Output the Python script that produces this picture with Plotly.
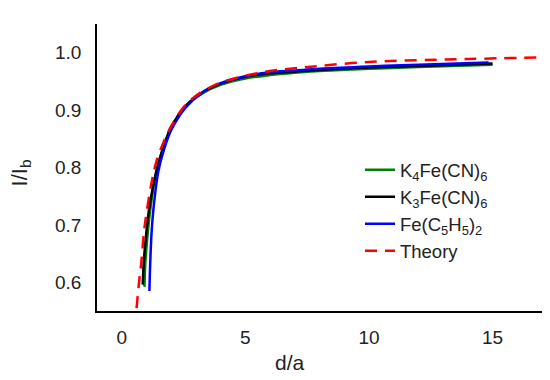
import plotly.graph_objects as go

# d/a values and I/Ib values
k4_x = [0.92, 0.95, 1.05, 1.15, 1.3, 1.5, 2.0, 2.6, 3.3, 4.0, 5.0, 6.0, 7.0, 8.0, 10.0, 12.0, 15.0]
k4_y = [0.592, 0.63, 0.685, 0.725, 0.77, 0.81, 0.87, 0.907, 0.930, 0.944, 0.955, 0.961, 0.965, 0.968, 0.972, 0.975, 0.979]

k3_x = [0.85, 0.9, 1.0, 1.1, 1.28, 1.5, 2.0, 2.6, 3.3, 4.0, 5.0, 6.0, 7.0, 8.0, 10.0, 12.0, 15.0]
k3_y = [0.596, 0.64, 0.688, 0.725, 0.77, 0.81, 0.87, 0.908, 0.932, 0.946, 0.958, 0.964, 0.967, 0.970, 0.974, 0.977, 0.981]

fc_x = [1.12, 1.15, 1.21, 1.3, 1.48, 1.7, 2.0, 2.6, 3.3, 4.0, 5.0, 6.0, 7.0, 8.0, 10.0, 12.0, 14.84]
fc_y = [0.585, 0.63, 0.688, 0.735, 0.793, 0.83, 0.865, 0.905, 0.932, 0.947, 0.959, 0.966, 0.969, 0.972, 0.976, 0.979, 0.983]

th_x = [0.6, 0.7, 0.8, 0.9, 1.0, 1.2, 1.4, 1.7, 2.0, 2.5, 3.0, 3.5, 4.0, 5.0, 6.0, 7.0, 8.0, 10.0, 12.0, 14.0, 17.0]
th_y = [0.555, 0.60, 0.638, 0.688, 0.72, 0.772, 0.81, 0.845, 0.872, 0.905, 0.925, 0.938, 0.948, 0.960, 0.968, 0.973, 0.977, 0.984, 0.987, 0.989, 0.992]

x_ticks = [0, 5, 10, 15]
y_ticks = [0.6, 0.7, 0.8, 0.9, 1.0]
y_ticklabels = ["0.6", "0.7", "0.8", "0.9", "1.0"]

font_family = "Liberation Sans, Arial, sans-serif"

fig = go.Figure()
fig.add_trace(go.Scatter(x=k4_x, y=k4_y, mode="lines", name="K<sub>4</sub>Fe(CN)<sub>6</sub>",
                         line=dict(color="#008000", width=2.5, shape="spline")))
fig.add_trace(go.Scatter(x=k3_x, y=k3_y, mode="lines", name="K<sub>3</sub>Fe(CN)<sub>6</sub>",
                         line=dict(color="#000000", width=2.5, shape="spline")))
fig.add_trace(go.Scatter(x=fc_x, y=fc_y, mode="lines", name="Fe(C<sub>5</sub>H<sub>5</sub>)<sub>2</sub>",
                         line=dict(color="#0000ff", width=2.5, shape="spline")))
fig.add_trace(go.Scatter(x=th_x, y=th_y, mode="lines", name="Theory",
                         line=dict(color="#ff0000", width=2.5, dash="12px,8px", shape="spline")))

# the page body keeps its default 8px margin, so the figure is 542x372
fig.update_layout(
    width=542, height=372,
    margin=dict(l=89, r=8, t=16, b=69),
    paper_bgcolor="white", plot_bgcolor="white",
    font=dict(family=font_family, size=19, color="#222222"),
    showlegend=True,
    legend=dict(x=0.591, y=0.557, xanchor="left", yanchor="top",
                bgcolor="rgba(0,0,0,0)", font=dict(size=18.5), tracegroupgap=0),
    xaxis=dict(range=[-1, 17], tickvals=x_ticks, showgrid=False, zeroline=False,
               showline=True, linecolor="black", linewidth=1.5, ticks="",
               ticklabelstandoff=8, automargin=False),
    yaxis=dict(range=[0.55, 1.05], tickvals=y_ticks, ticktext=y_ticklabels,
               showgrid=False, zeroline=False,
               showline=True, linecolor="black", linewidth=1.5, ticks="",
               ticklabelstandoff=10, automargin=False),
    annotations=[
        dict(text="d/a", xref="paper", yref="paper", x=0.434, y=-0.178,
             xanchor="center", yanchor="middle", showarrow=False,
             font=dict(size=21, family=font_family, color="#222222")),
        dict(text="I/I<sub>b</sub>", xref="paper", yref="paper", x=-0.172, y=0.481,
             xanchor="center", yanchor="middle", showarrow=False, textangle=-90,
             font=dict(size=22, family=font_family, color="#222222")),
    ],
)

fig.write_html("out.html")
